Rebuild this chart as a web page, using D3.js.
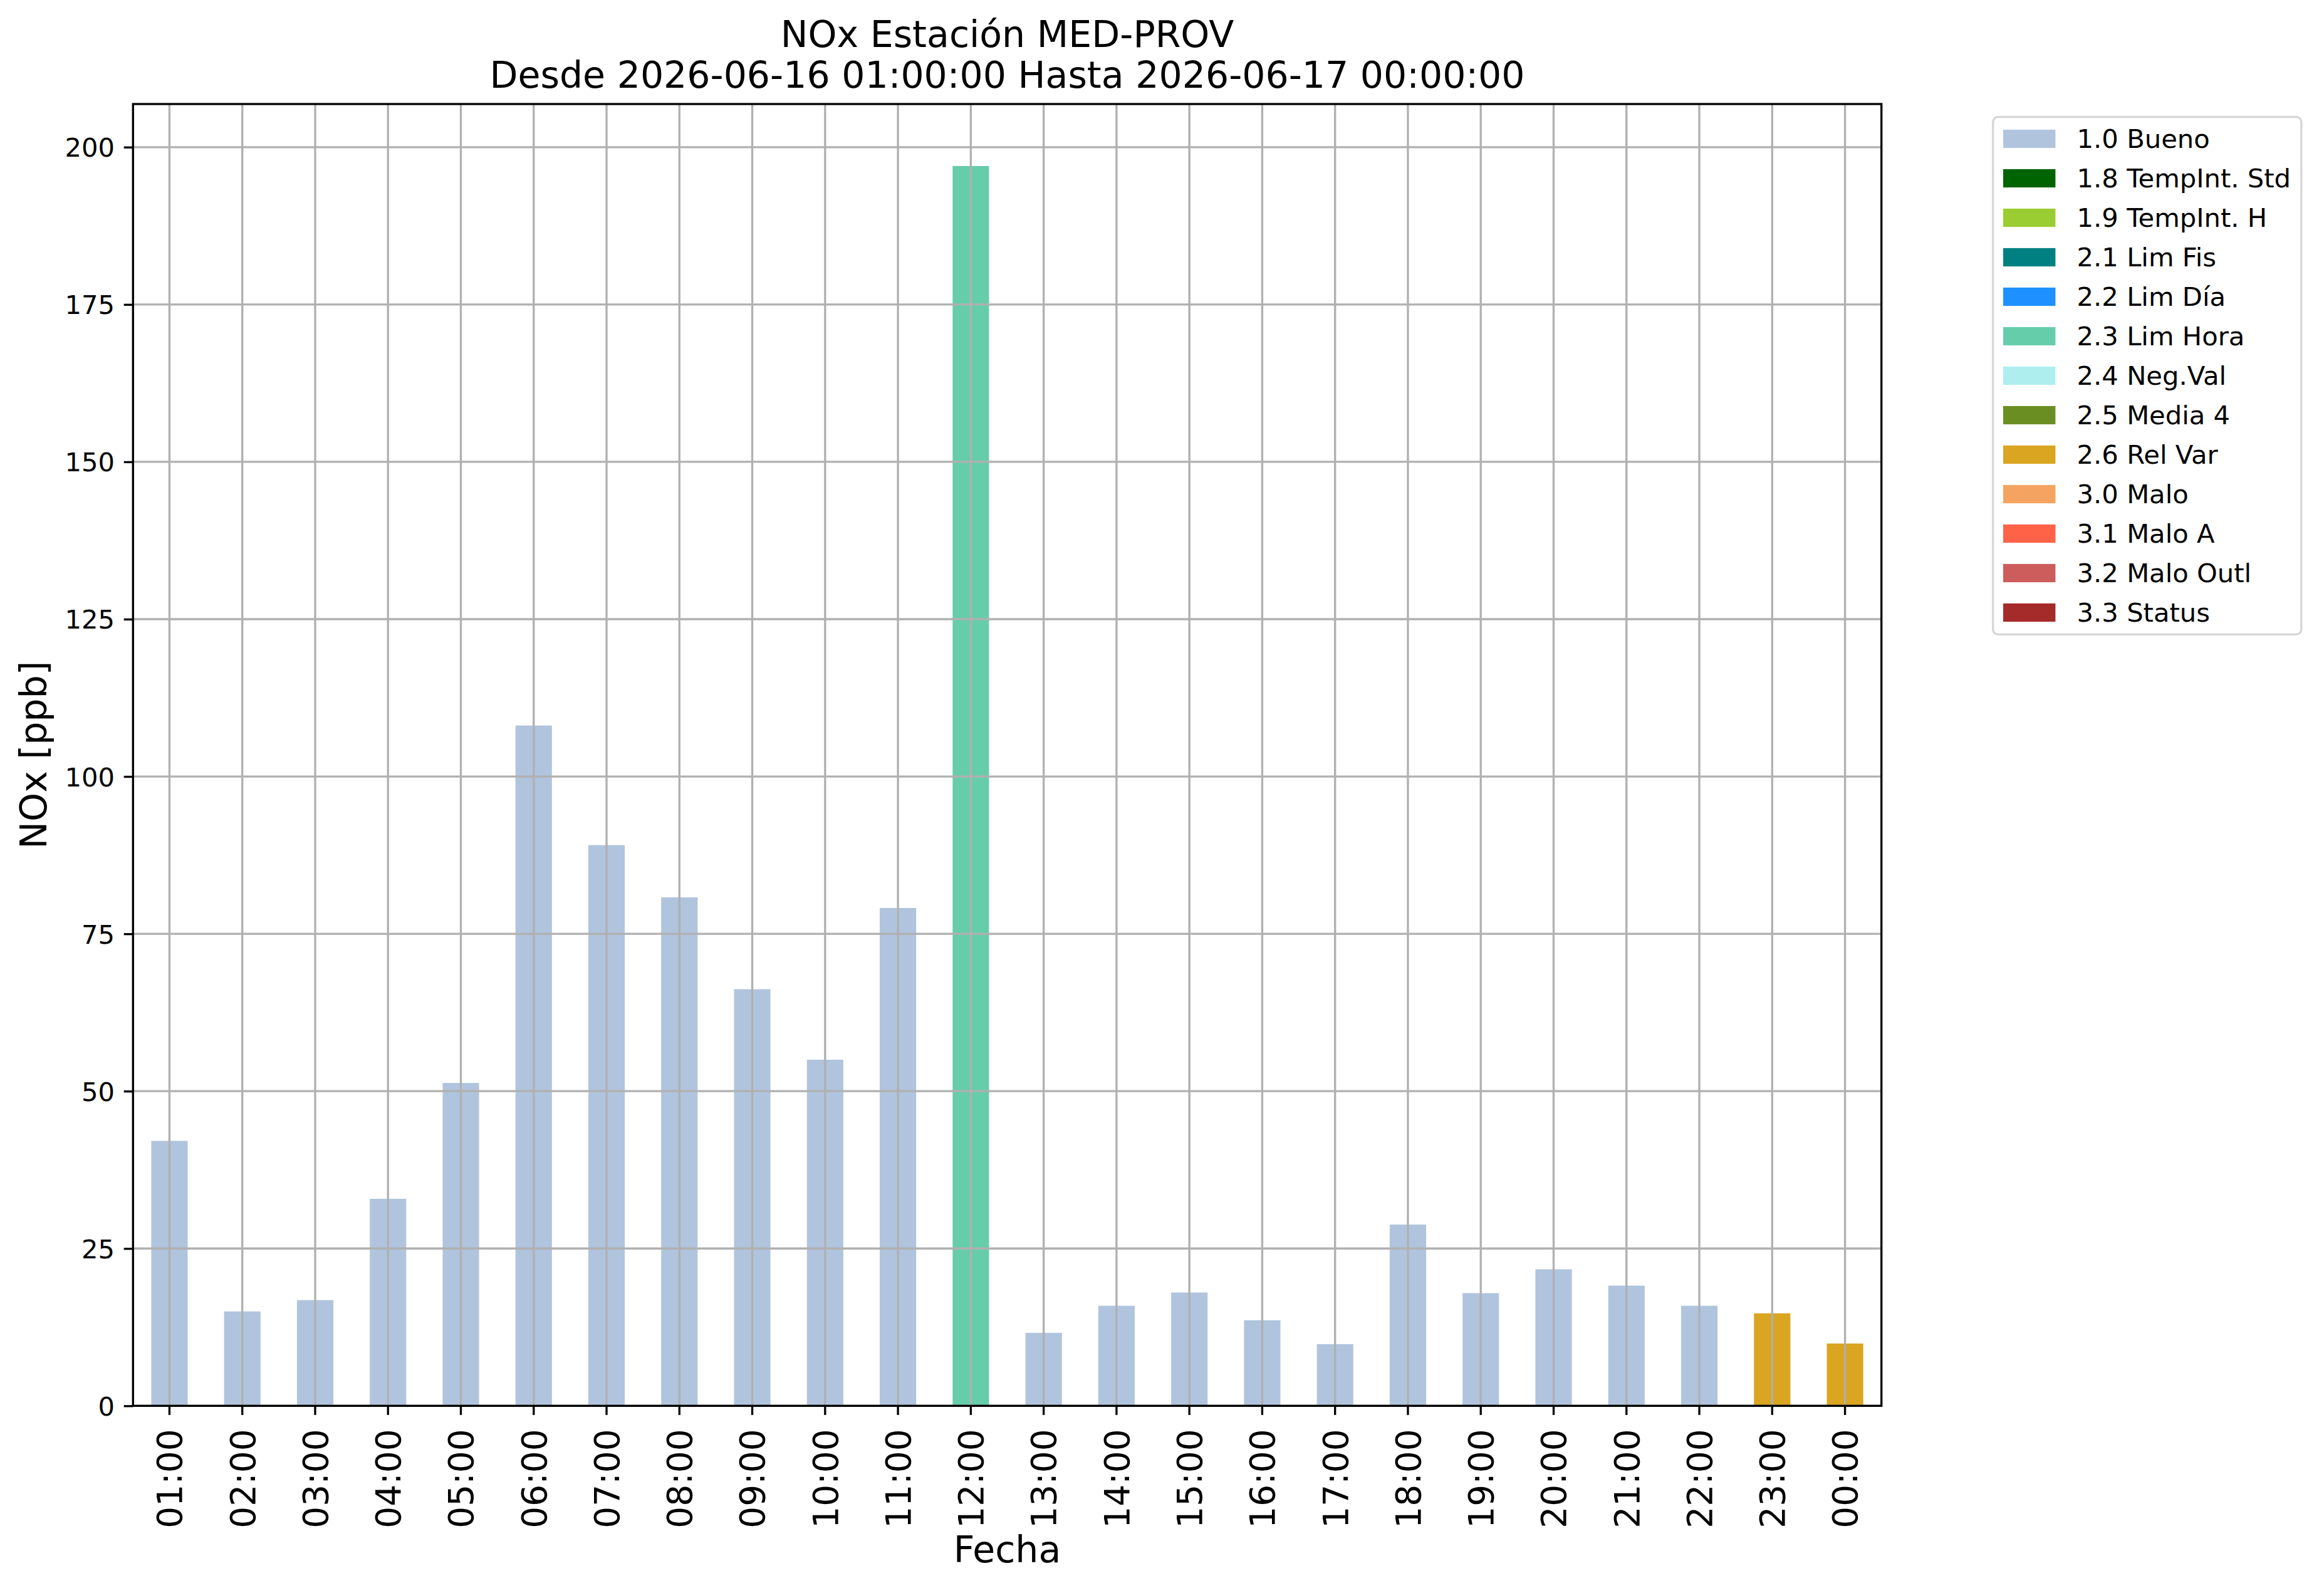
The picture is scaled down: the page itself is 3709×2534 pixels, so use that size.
<!DOCTYPE html>
<html>
<head>
<meta charset="utf-8">
<script src="https://cdn.jsdelivr.net/npm/d3@7"></script>
<style>
  body { margin: 0; background: #fff; }
  svg { display: block; font-family: "DejaVu Sans", sans-serif; }
</style>
</head>
<body>
<svg id="chart" width="3709" height="2534"></svg>
<script>
// hourly NOx values, 2026-06-16 01:00 .. 2026-06-17 00:00
let hours = ["01:00","02:00","03:00","04:00","05:00","06:00","07:00","08:00","09:00","10:00","11:00","12:00",
             "13:00","14:00","15:00","16:00","17:00","18:00","19:00","20:00","21:00","22:00","23:00","00:00"];
let values = [42.1, 15.0, 16.8, 32.9, 51.3, 108.1, 89.1, 80.8, 66.2, 55.0, 79.1, 197.0,
              11.6, 15.9, 18.0, 13.6, 9.8, 28.8, 17.9, 21.7, 19.1, 15.9, 14.7, 9.9];
let flags = ["1.0 Bueno","1.0 Bueno","1.0 Bueno","1.0 Bueno","1.0 Bueno","1.0 Bueno","1.0 Bueno","1.0 Bueno",
             "1.0 Bueno","1.0 Bueno","1.0 Bueno","2.3 Lim Hora","1.0 Bueno","1.0 Bueno","1.0 Bueno","1.0 Bueno",
             "1.0 Bueno","1.0 Bueno","1.0 Bueno","1.0 Bueno","1.0 Bueno","1.0 Bueno","2.6 Rel Var","2.6 Rel Var"];

let flagNames = ["1.0 Bueno","1.8 TempInt. Std","1.9 TempInt. H","2.1 Lim Fis","2.2 Lim Día","2.3 Lim Hora",
                 "2.4 Neg.Val","2.5 Media 4","2.6 Rel Var","3.0 Malo","3.1 Malo A","3.2 Malo Outl","3.3 Status"];
let flagColors = ["lightsteelblue","darkgreen","yellowgreen","teal","dodgerblue","mediumaquamarine",
                  "paleturquoise","olivedrab","goldenrod","sandybrown","tomato","indianred","brown"];
let yTicks = [0, 25, 50, 75, 100, 125, 150, 175, 200];

let titleLines = ["NOx Estación MED-PROV", "Desde 2026-06-16 01:00:00 Hasta 2026-06-17 00:00:00"];

let svg = d3.select("#chart");
let axL = 212.3, axR = 3002.7, axT = 166, axB = 2243.3;
let lw = 3.33;          // 0.8pt at 300 dpi
let tickLen = 14.6;     // 3.5pt

let x = d3.scaleBand().domain(hours).range([axL, axR]).paddingInner(0.5).paddingOuter(0.25);
let y = d3.scaleLinear().domain([0, d3.max(values) * 1.05]).range([axB, axT]);
let color = d3.scaleOrdinal().domain(flagNames).range(flagColors);

// bars
svg.append("g").selectAll("rect")
  .data(values)
  .join("rect")
    .attr("x", (d, i) => x(hours[i]))
    .attr("y", d => y(d))
    .attr("width", x.bandwidth())
    .attr("height", d => y(0) - y(d))
    .attr("fill", (d, i) => color(flags[i]));

// grid over the bars, like matplotlib does
let grid = svg.append("g").attr("stroke", "#b0b0b0").attr("stroke-width", lw);
grid.selectAll("line.v")
  .data(hours)
  .join("line").attr("class", "v")
    .attr("x1", d => x(d) + x.bandwidth() / 2).attr("x2", d => x(d) + x.bandwidth() / 2)
    .attr("y1", axT).attr("y2", axB);
grid.selectAll("line.h")
  .data(yTicks)
  .join("line").attr("class", "h")
    .attr("x1", axL).attr("x2", axR)
    .attr("y1", d => y(d)).attr("y2", d => y(d));

// y axis
let yAxis = svg.append("g")
  .attr("transform", `translate(${axL},0)`)
  .call(d3.axisLeft(y).tickValues(yTicks).tickSize(tickLen).tickPadding(14.6).tickFormat(d3.format("d")));
yAxis.select(".domain").remove();
yAxis.selectAll(".tick line").attr("stroke", "#000").attr("stroke-width", lw);
yAxis.selectAll(".tick text")
  .attr("font-size", 41.7).attr("font-family", "DejaVu Sans").attr("fill", "#000")
  .attr("dy", "0.36em");

// x axis
let xAxis = svg.append("g")
  .attr("transform", `translate(0,${axB})`)
  .call(d3.axisBottom(x).tickSize(tickLen));
xAxis.select(".domain").remove();
xAxis.selectAll(".tick line").attr("stroke", "#000").attr("stroke-width", lw);
xAxis.selectAll(".tick text")
  .attr("font-size", 55).attr("font-family", "DejaVu Sans").attr("fill", "#000")
  .attr("transform", "rotate(-90)")
  .attr("text-anchor", "end")
  .attr("x", -37).attr("y", 0).attr("dy", "0.36em");

// frame
svg.append("rect")
  .attr("x", axL).attr("y", axT)
  .attr("width", axR - axL).attr("height", axB - axT)
  .attr("fill", "none").attr("stroke", "#000").attr("stroke-width", lw);

// titles and labels
svg.append("text")
  .attr("x", (axL + axR) / 2).attr("y", 75)
  .attr("text-anchor", "middle").attr("font-size", 58.5)
  .text(titleLines[0]);
svg.append("text")
  .attr("x", (axL + axR) / 2).attr("y", 140)
  .attr("text-anchor", "middle").attr("font-size", 58.5)
  .text(titleLines[1]);
svg.append("text")
  .attr("x", (axL + axR) / 2).attr("y", 2493)
  .attr("text-anchor", "middle").attr("font-size", 58.5)
  .text("Fecha");
svg.append("text")
  .attr("transform", `translate(74,${(axT + axB) / 2}) rotate(-90)`)
  .attr("text-anchor", "middle").attr("font-size", 58.5)
  .text("NOx [ppb]");

// legend
let lgX = 3180.7, lgY = 186.7, rowH = 63, fs = 41.7;
let legend = svg.append("g");
let box = legend.append("rect")
  .attr("x", lgX).attr("y", lgY).attr("rx", 8).attr("ry", 8)
  .attr("height", (flagNames.length - 1) * rowH + 2 * 34.8)
  .attr("fill", "#fff").attr("fill-opacity", 0.8)
  .attr("stroke", "#cccccc").attr("stroke-opacity", 0.8).attr("stroke-width", lw);
let rows = legend.selectAll("g.row")
  .data(flagNames)
  .join("g").attr("class", "row")
    .attr("transform", (d, i) => `translate(0,${lgY + 34.8 + i * rowH})`);
rows.append("rect")
  .attr("x", 3197).attr("y", -14.6)
  .attr("width", 83.4).attr("height", 29.2)
  .attr("fill", d => color(d));
let labels = rows.append("text")
  .attr("x", 3314.6).attr("y", 14.6)
  .attr("font-size", fs)
  .text(d => d);
let maxW = d3.max(labels.nodes(), n => n.getComputedTextLength());
box.attr("width", 3314.6 + maxW + 16.7 - lgX);
</script>
</body>
</html>
